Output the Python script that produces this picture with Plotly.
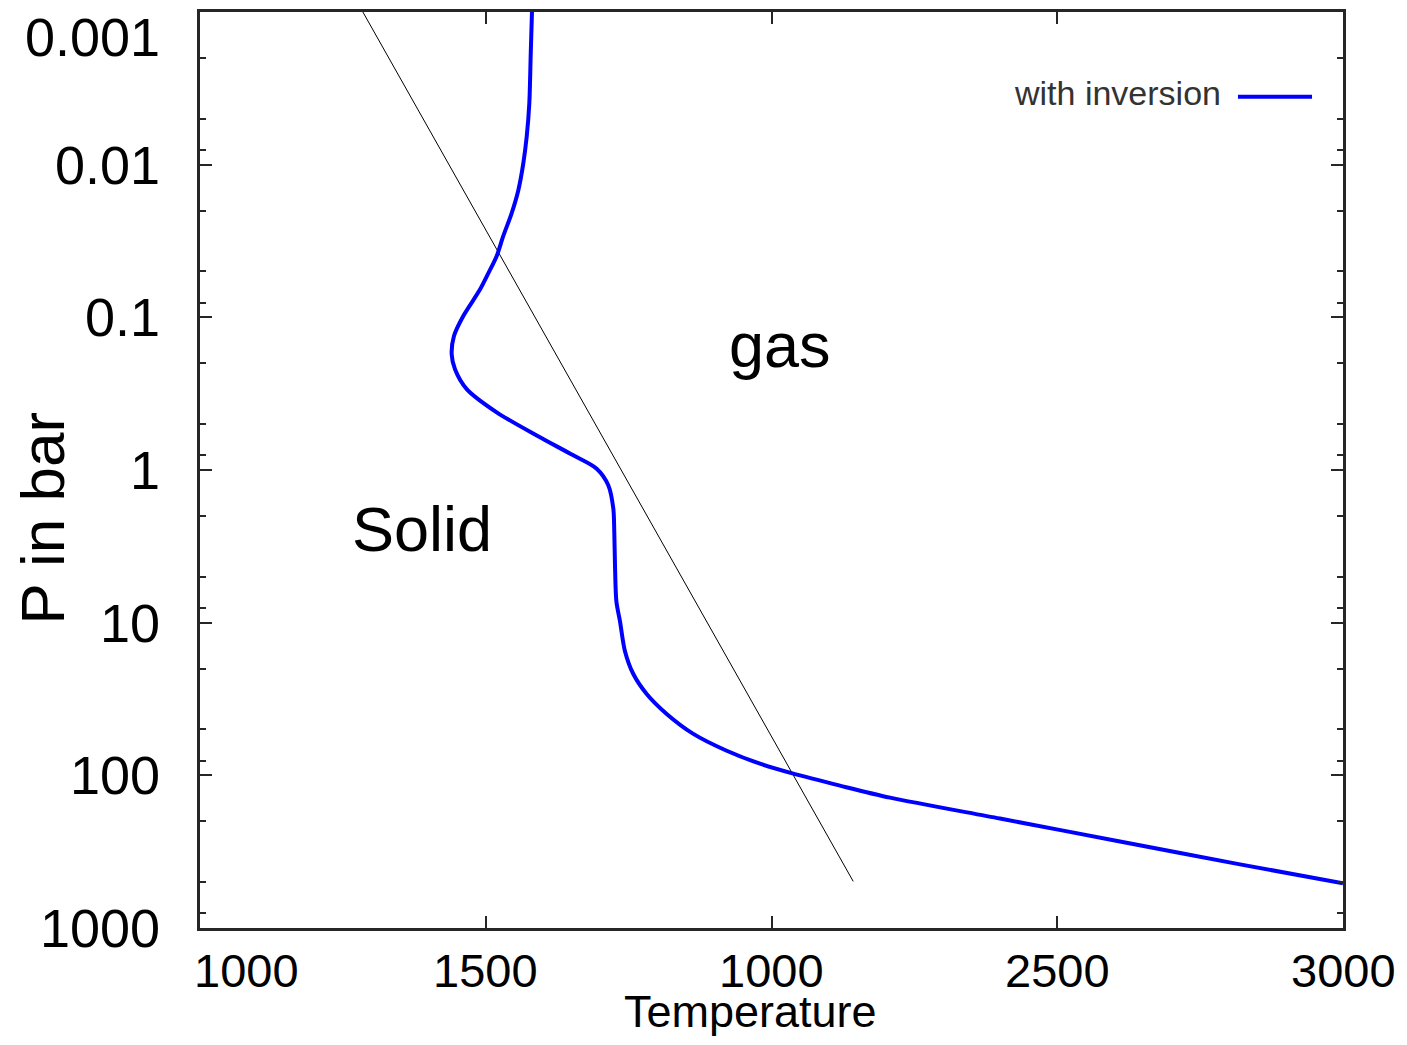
import math
import plotly.graph_objects as go

# ---- data ----
temperature = [1580.9, 1578.7, 1576.2, 1571.7, 1565.7, 1557.0, 1545.4, 1530.7, 1519.2,
               1504.8, 1489.9, 1460.7, 1444.4, 1440.4, 1446.2, 1466.7, 1519.2, 1589.2,
               1653.2, 1694.1, 1714.4, 1723.2, 1724.9, 1726.2, 1728.6, 1734.9, 1743.6,
               1758.2, 1781.6, 1816.6, 1863.2, 1921.6, 1979.9, 2038.2, 2119.9, 2207.4,
               2399.8, 2609.8, 2819.8, 3000.0]
pressure = [0.001, 0.00188, 0.00398, 0.00653, 0.0098, 0.01469, 0.02075, 0.0293, 0.0396,
            0.0512, 0.0658, 0.098, 0.1325, 0.1746, 0.2185, 0.295, 0.419, 0.594, 0.802,
            0.981, 1.259, 1.788, 2.535, 4.29, 7.26, 9.80, 15.38, 21.7, 29.3, 39.6, 53.5,
            69.0, 83.9, 97.5, 116.8, 140, 192, 271, 383, 509]

boundary_T = [1285, 2143]
boundary_P = [0.001, 495]

x_tickvals = [1000, 1500, 2000, 2500, 3000]
x_ticktext = ["1000", "1500", "1000", "2500", "3000"]
y_tickvals = [0.001, 0.01, 0.1, 1, 10, 100, 1000]
y_ticktext = ["0.001", "0.01", "0.1", "1", "10", "100", "1000"]
y_minor = [d * m for d in [0.001, 0.01, 0.1, 1, 10, 100] for m in (2, 5, 8)]

region_labels = ["gas", "Solid"]
region_T = [2015, 1388]
region_P = [0.151, 2.43]

series_name = "with inversion"

FONT = "Liberation Sans, Arial, sans-serif"
AXC = "#262626"

fig = go.Figure()
fig.add_trace(go.Scatter(x=boundary_T, y=boundary_P, mode="lines",
                         line=dict(color="black", width=1), showlegend=False,
                         hoverinfo="skip"))
fig.add_trace(go.Scatter(x=temperature, y=pressure, mode="lines", name=series_name,
                         line=dict(color="#0000ff", width=4, shape="spline", smoothing=0.8),
                         showlegend=False))

for lab, t, p in zip(region_labels, region_T, region_P):
    fig.add_annotation(x=t, y=math.log10(p), xref="x", yref="y", text=lab,
                       showarrow=False, xanchor="center", yanchor="middle",
                       font=dict(family=FONT, size=63, color="black"))

# tick labels (first label of each axis kept inside the frame)
for i, (v, txt) in enumerate(zip(x_tickvals, x_ticktext)):
    fig.add_annotation(x=v, y=0, xref="x", yref="paper", text=txt, showarrow=False,
                       xanchor="left" if i == 0 else "center", yanchor="middle",
                       xshift=-8 if i == 0 else 0, yshift=-42,
                       font=dict(family=FONT, size=47, color="black"))
for i, (v, txt) in enumerate(zip(y_tickvals, y_ticktext)):
    fig.add_annotation(x=0, y=math.log10(v), xref="paper", yref="y", text=txt,
                       showarrow=False, xanchor="right",
                       yanchor="top" if i == 0 else "middle",
                       xshift=-38, yshift=7 if i == 0 else 0,
                       font=dict(family=FONT, size=54, color="black"))

# legend drawn gnuplot-style: text then line sample
fig.add_annotation(x=0.8950, y=0.9120, xref="paper", yref="paper", text=series_name,
                   xanchor="right", yanchor="middle", showarrow=False,
                   font=dict(family=FONT, size=34, color="#333333"))
fig.add_shape(type="line", xref="paper", yref="paper", x0=0.9081, x1=0.9729,
              y0=0.9075, y1=0.9075, line=dict(color="#0000ff", width=4))

# axis titles
fig.add_annotation(x=-0.1382, y=0.4472, xref="paper", yref="paper", text="P in bar",
                   textangle=-90, showarrow=False, xanchor="center", yanchor="middle",
                   font=dict(family=FONT, size=62, color="black"))
fig.add_annotation(x=0.482, y=-0.0915, xref="paper", yref="paper", text="Temperature",
                   showarrow=False, xanchor="center", yanchor="middle",
                   font=dict(family=FONT, size=45, color="black"))

fig.update_xaxes(range=[1000, 3000], tickmode="array", tickvals=x_tickvals,
                 showticklabels=False, ticks="inside", ticklen=12, tickwidth=2,
                 tickcolor=AXC, showline=True, linecolor=AXC, linewidth=2.5,
                 mirror="ticks", showgrid=False, zeroline=False)
fig.update_yaxes(type="log", range=[3, -3], tickmode="array", tickvals=y_tickvals,
                 showticklabels=False, ticks="inside", ticklen=12, tickwidth=2,
                 tickcolor=AXC, showline=True, linecolor=AXC, linewidth=2.5,
                 mirror="ticks", showgrid=False, zeroline=False,
                 minor=dict(tickmode="array", tickvals=y_minor, ticks="inside",
                            ticklen=6, tickwidth=2, tickcolor=AXC, showgrid=False))

fig.update_layout(width=1391, height=1029, margin=dict(l=192, r=56, t=1, b=109),
                  plot_bgcolor="white", paper_bgcolor="white", showlegend=False)

fig.write_html("out.html")
